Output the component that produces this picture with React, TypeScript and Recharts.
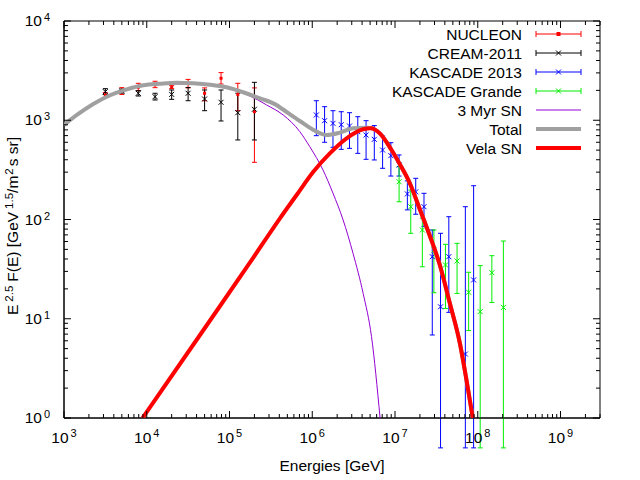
import React from "react";
import { ComposedChart, XAxis, YAxis, Scatter, Line, ErrorBar, ReferenceArea, Legend } from "recharts";

const FONT = '"Liberation Sans", Arial, Helvetica, sans-serif';
const PLOT_TOP = 21;
const PLOT_LEFT = 64;
const PLOT_RIGHT = 600;

// NUCLEON (E in GeV, E^2.5 F(E), lower / upper end of error bar)
const nucleonE = [3.16e3, 5.0e3, 7.9e3, 1.26e4, 2.0e4, 3.16e4, 5.0e4, 7.9e4, 1.26e5, 2.0e5];
const nucleonF = [1800, 1985, 2150, 2280, 2150, 2356, 1870, 2650, 1820, 1220];
const nucleonLo = [1700, 1820, 1985, 2130, 2080, 2118, 1573, 2318, 1248, 377];
const nucleonHi = [1900, 2130, 2356, 2470, 2230, 2580, 2118, 3020, 2356, 2118];

// CREAM-2011
const creamE = [3.16e3, 5.0e3, 7.9e3, 1.26e4, 2.0e4, 3.16e4, 5.0e4, 7.9e4, 1.26e5, 2.0e5];
const creamF = [1940, 1970, 1870, 1727, 1822, 1870, 1637, 1517, 1191, 1290];
const creamLo = [1820, 1880, 1755, 1600, 1625, 1573, 1248, 983, 633, 633];
const creamHi = [2080, 2060, 1985, 1870, 2018, 2140, 2018, 2018, 1870, 2410];

// KASCADE 2013
const kascadeE = [1.12e6, 1.41e6, 1.78e6, 2.24e6, 2.82e6, 3.55e6, 4.47e6, 5.62e6, 7.08e6, 8.91e6, 1.12e7, 1.41e7, 1.78e7, 2.24e7, 2.82e7, 3.55e7, 4.47e7, 7.08e7, 8.91e7];
const kascadeF = [1130, 990, 931, 902, 875, 767, 710, 642, 501, 440, 354, 181, 190, 134.5, 42.2, 13.2, 42.2, 4.41, 24.6];
const kascadeLo = [699, 600, 534, 509, 521, 464, 404, 398, 328, 274, 274, 125, 113, 84.7, 6.86, 0.5, 11.6, 0.5, 0.5];
const kascadeHi = [1573, 1370, 1248, 1219, 1191, 1086, 990, 883, 694, 594, 447, 245, 260, 183.6, 78.4, 72.6, 106.7, 134.5, 219];

// KASCADE Grande
const grandeE = [1.12e7, 1.55e7, 2.14e7, 2.95e7, 4.07e7, 5.62e7, 7.76e7, 1.07e8, 1.48e8, 2.04e8];
const grandeF = [240, 134.5, 78.4, 49.3, 34.8, 38.2, 18.5, 11.8, 29.1, 13];
const grandeLo = [151, 72.6, 33.4, 18.3, 12.7, 18, 7.6, 0.5, 14.6, 0.5];
const grandeHi = [340, 198, 103, 78.4, 56.2, 57.5, 29.4, 34.3, 43.2, 60.7];

// model curves
const myrE = [1e3, 2.26e3, 5.72e3, 1.44e4, 3.64e4, 9.23e4, 1.77e5, 2.81e5, 4.45e5, 7.08e5, 9.33e5, 1.35e6, 1.78e6, 2.36e6, 3.11e6, 4.12e6, 5.2e6, 6.6e6];
const myrF = [890, 1450, 2040, 2310, 2330, 2100, 1755, 1425, 1130, 767, 542, 315, 184, 98.9, 45.6, 18.0, 6.6, 1.0];

const totalE = [1e3, 1.43e3, 2.26e3, 3.6e3, 5.72e3, 9.06e3, 1.44e4, 2.29e4, 3.64e4, 5.79e4, 9.23e4, 1.46e5, 2.33e5, 3.7e5, 4.45e5, 7.08e5, 1.13e6, 1.49e6, 2.15e6, 3.11e6, 4.52e6, 5.11e6, 6.55e6, 9.08e6, 1.14e7, 1.51e7, 1.99e7, 2.64e7, 3.48e7, 4.59e7, 6.07e7, 7.31e7, 8.71e7];
const totalF = [896, 1130, 1459, 1786, 2050, 2254, 2335, 2390, 2356, 2280, 2147, 1914, 1664, 1425, 1283, 982, 767, 710, 750, 830, 841, 837, 739, 501, 362, 232, 127.6, 68.2, 34.8, 14.4, 5.7, 2.41, 1];

const velaE = [8.91e3, 4.4e4, 1.77e5, 4.07e5, 6.47e5, 1.03e6, 1.63e6, 2.6e6, 4.12e6, 5.11e6, 6.55e6, 9.08e6, 1.14e7, 1.51e7, 1.99e7, 2.64e7, 3.48e7, 4.59e7, 6.07e7, 7.31e7, 8.71e7];
const velaF = [1, 6.86, 36.9, 102.8, 176.6, 303, 464, 658, 811, 830, 738, 501, 362, 232, 127.6, 68.2, 34.8, 14.4, 5.7, 2.41, 1];

const xMajor = [1e3, 1e4, 1e5, 1e6, 1e7, 1e8, 1e9];
const yMajor = [1, 10, 100, 1e3, 1e4];

const withMinor = (major: number[], max: number) => {
  const out: number[] = [];
  major.forEach((m) => {
    for (let k = 1; k <= 9; k++) if (m * k <= max) out.push(m * k);
  });
  return out;
};
const xTicks = withMinor(xMajor, 3e9);
const yTicks = withMinor(yMajor, 1e4);

const points = (E: number[], F: number[], lo: number[], hi: number[]) =>
  E.map((x, i) => ({ x, y: F[i], err: [F[i] - lo[i], hi[i] - F[i]] }));
const curve = (E: number[], F: number[]) => E.map((x, i) => ({ x, y: F[i] }));

const nucleon = points(nucleonE, nucleonF, nucleonLo, nucleonHi);
const cream = points(creamE, creamF, creamLo, creamHi);
const kascade = points(kascadeE, kascadeF, kascadeLo, kascadeHi);
const grande = points(grandeE, grandeF, grandeLo, grandeHi);
const myr = curve(myrE, myrF);
const total = curve(totalE, totalF);
const vela = curve(velaE, velaF);

const RED = "#ff0000";
const BLUE = "#0000ff";
const GREEN = "#00ee00";
const VIOLET = "#9400d3";
const GRAY = "#a0a0a0";

const isMajor = (v: number) => Math.abs(Math.log10(v) - Math.round(Math.log10(v))) < 1e-6;

const XTick = (props: any) => {
  const { x, y, payload } = props;
  const v = payload.value;
  const len = isMajor(v) ? 7 : 4;
  return (
    <g>
      <line x1={x} y1={y} x2={x} y2={y - len} stroke="#000" />
      <line x1={x} y1={PLOT_TOP} x2={x} y2={PLOT_TOP + len} stroke="#000" />
      {isMajor(v) && (
        <text x={x} y={y + 25} textAnchor="middle" fontFamily={FONT} fontSize={15.5} fill="#000">
          10<tspan dx={2} dy={-6} fontSize={11}>{Math.round(Math.log10(v))}</tspan>
        </text>
      )}
    </g>
  );
};

const YTick = (props: any) => {
  const { y, payload } = props;
  const v = payload.value;
  const len = isMajor(v) ? 7 : 4;
  return (
    <g>
      <line x1={PLOT_LEFT} y1={y} x2={PLOT_LEFT + len} y2={y} stroke="#000" />
      <line x1={PLOT_RIGHT} y1={y} x2={PLOT_RIGHT - len} y2={y} stroke="#000" />
      {isMajor(v) && (
        <text x={50} y={y + 5} textAnchor="end" fontFamily={FONT} fontSize={15.5} fill="#000">
          10<tspan dx={2} dy={-5} fontSize={11}>{Math.round(Math.log10(v))}</tspan>
        </text>
      )}
    </g>
  );
};

const cross = (color: string) => (p: any) => (
  <path
    d={`M${p.cx - 2.5},${p.cy - 2.5}L${p.cx + 2.5},${p.cy + 2.5}M${p.cx - 2.5},${p.cy + 2.5}L${p.cx + 2.5},${p.cy - 2.5}`}
    stroke={color}
    strokeWidth={1}
  />
);
const dot = (p: any) => <rect x={p.cx - 1.5} y={p.cy - 1.5} width={3} height={3} fill={RED} />;

const legendRows = [
  { name: "NUCLEON", color: RED, kind: "dot" },
  { name: "CREAM-2011", color: "#000", kind: "cross" },
  { name: "KASCADE 2013", color: BLUE, kind: "cross" },
  { name: "KASCADE Grande", color: GREEN, kind: "cross" },
  { name: "3 Myr SN", color: VIOLET, kind: "thin" },
  { name: "Total", color: GRAY, kind: "thick" },
  { name: "Vela SN", color: RED, kind: "thick" },
];

// legend box starts at page x = 340, y = 20
const renderLegend = () => (
  <svg width={260} height={150} style={{ display: "block" }}>
    {legendRows.map((r, i) => {
      const cy = 14 + 19 * i;
      return (
        <g key={r.name}>
          <text x={182} y={cy + 5.5} textAnchor="end" fontFamily={FONT} fontSize={15.5} fill="#000">
            {r.name}
          </text>
          {r.kind === "dot" || r.kind === "cross" ? (
            <g stroke={r.color} strokeWidth={1}>
              <line x1={196} y1={cy} x2={241} y2={cy} />
              <line x1={196} y1={cy - 3} x2={196} y2={cy + 3} />
              <line x1={241} y1={cy - 3} x2={241} y2={cy + 3} />
              {r.kind === "dot" ? (
                <rect x={217} y={cy - 1.5} width={3} height={3} fill={r.color} />
              ) : (
                <path d={`M216,${cy - 2.5}L221,${cy + 2.5}M216,${cy + 2.5}L221,${cy - 2.5}`} />
              )}
            </g>
          ) : (
            <line x1={196} y1={cy} x2={241} y2={cy} stroke={r.color} strokeWidth={r.kind === "thin" ? 1 : 4} />
          )}
        </g>
      );
    })}
  </svg>
);

export default function App() {
  return (
    <div style={{ position: "absolute", left: 0, top: 0, width: 640, height: 480, background: "#fff" }}>
      <ComposedChart width={640} height={480} margin={{ top: PLOT_TOP, right: 40, bottom: 20, left: 0 }}>
        <XAxis
          dataKey="x"
          type="number"
          scale="log"
          domain={[1e3, 3e9]}
          allowDataOverflow
          ticks={xTicks}
          interval={0}
          tick={<XTick />}
          tickLine={false}
          tickSize={0}
          tickMargin={0}
          axisLine={{ stroke: "#000" }}
          height={42}
          label={{
            content: () => (
              <text x={332} y={471} textAnchor="middle" fontFamily={FONT} fontSize={15.5} fill="#000">
                Energies [GeV]
              </text>
            ),
          }}
        />
        <YAxis
          dataKey="y"
          type="number"
          scale="log"
          domain={[1, 1e4]}
          allowDataOverflow
          ticks={yTicks}
          interval={0}
          tick={<YTick />}
          tickLine={false}
          tickSize={0}
          tickMargin={0}
          axisLine={{ stroke: "#000" }}
          width={64}
          label={{
            content: () => (
              <text
                x={17.5}
                y={226}
                transform="rotate(-90, 17.5, 226)"
                textAnchor="middle"
                fontFamily={FONT}
                fontSize={15.5}
                fill="#000"
              >
                E<tspan dx={3} dy={-5} fontSize={11.5}>2.5</tspan>
                <tspan dx={4} dy={5}>F(E) [GeV</tspan>
                <tspan dx={3} dy={-5} fontSize={11.5}>1.5</tspan>
                <tspan dy={5}>/m</tspan>
                <tspan dx={1} dy={-5} fontSize={11.5}>2</tspan>
                <tspan dx={2} dy={5}>s sr]</tspan>
              </text>
            ),
          }}
        />
        <ReferenceArea x1={1e3} x2={3e9} y1={1} y2={1e4} fill="none" fillOpacity={0} stroke="#000" strokeWidth={1} />
        <Legend content={renderLegend} verticalAlign="middle" align="center" wrapperStyle={{ position: "absolute", left: 340, top: 20, width: 260, height: 150 }} />
        <Scatter name="NUCLEON" data={nucleon} dataKey="y" shape={dot} isAnimationActive={false}>
          <ErrorBar dataKey="err" direction="y" width={2.5} stroke={RED} strokeWidth={1} />
        </Scatter>
        <Scatter name="CREAM-2011" data={cream} dataKey="y" shape={cross("#000")} isAnimationActive={false}>
          <ErrorBar dataKey="err" direction="y" width={2.5} stroke="#000" strokeWidth={1} />
        </Scatter>
        <Scatter name="KASCADE 2013" data={kascade} dataKey="y" shape={cross(BLUE)} isAnimationActive={false}>
          <ErrorBar dataKey="err" direction="y" width={2.5} stroke={BLUE} strokeWidth={1} />
        </Scatter>
        <Scatter name="KASCADE Grande" data={grande} dataKey="y" shape={cross(GREEN)} isAnimationActive={false}>
          <ErrorBar dataKey="err" direction="y" width={2.5} stroke={GREEN} strokeWidth={1} />
        </Scatter>
        <Line name="3 Myr SN" data={myr} dataKey="y" type="monotone" stroke={VIOLET} strokeWidth={1} dot={false} isAnimationActive={false} zIndex={700} />
        <Line name="Total" data={total} dataKey="y" type="monotone" stroke={GRAY} strokeWidth={4} dot={false} isAnimationActive={false} zIndex={710} />
        <Line name="Vela SN" data={vela} dataKey="y" type="monotone" stroke={RED} strokeWidth={4} dot={false} isAnimationActive={false} zIndex={720} />
      </ComposedChart>
    </div>
  );
}
